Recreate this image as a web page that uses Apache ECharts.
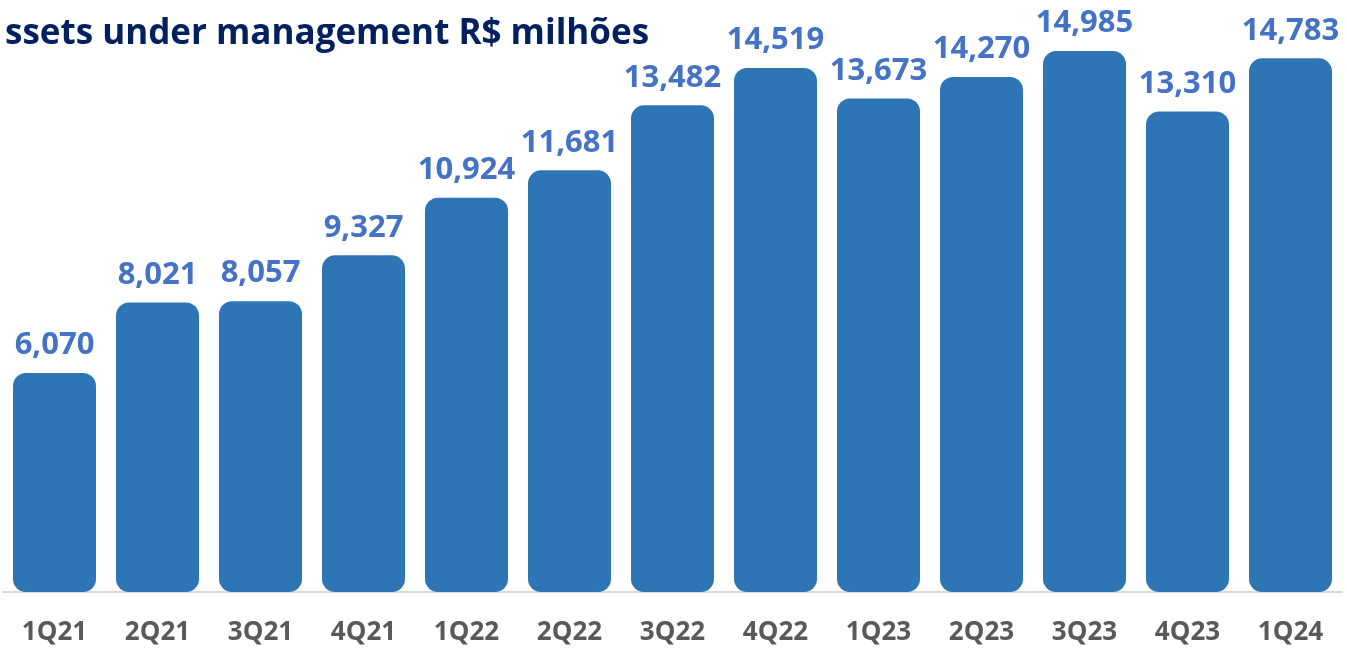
<!DOCTYPE html>
<html>
<head>
    <meta charset="UTF-8">
    <title>Assets under management</title>
    <script src="https://cdn.jsdelivr.net/npm/echarts@6/dist/echarts.min.js"></script>
    <style>
        * { padding: 0; margin: 0; }
        body { background: #fff; }
        #chart { width: 1347px; height: 652px; }
    </style>
</head>
<body>
    <div id="chart"></div>
<script>
    // quarters and AUM (R$ millions)
    var categories = ['1Q21', '2Q21', '3Q21', '4Q21', '1Q22', '2Q22', '3Q22', '4Q22', '1Q23', '2Q23', '3Q23', '4Q23', '1Q24'];
    var aum = [6070, 8021, 8057, 9327, 10924, 11681, 13482, 14519, 13673, 14270, 14985, 13310, 14783];

    var myChart = echarts.init(document.getElementById('chart'));

    var option = {
        animation: false,
        title: {
            text: 'ssets under management R$ milhões',
            left: 0,
            top: 12,
            textStyle: {
                fontFamily: 'Open Sans',
                fontWeight: 'bold',
                fontSize: 35,
                color: '#002060'
            }
        },
        grid: {
            left: 3,
            right: 5,
            top: 0,
            bottom: 60,
            containLabel: false
        },
        xAxis: {
            type: 'category',
            data: categories,
            axisLine: { lineStyle: { color: '#d9d9d9', width: 2 } },
            axisTick: { show: false },
            axisLabel: {
                margin: 28,
                fontFamily: 'Open Sans',
                fontWeight: 'bold',
                fontSize: 26,
                color: '#595959'
            }
        },
        yAxis: {
            type: 'value',
            min: 0,
            max: 16400,
            show: false,
            splitLine: { show: false }
        },
        series: [
            {
                type: 'bar',
                data: aum,
                barWidth: 83,
                itemStyle: {
                    color: '#2E75B6',
                    borderRadius: 13
                },
                label: {
                    show: true,
                    position: 'top',
                    distance: 12,
                    fontFamily: 'Open Sans',
                    fontWeight: 'bold',
                    fontSize: 31,
                    color: '#4472C4',
                    formatter: function (p) {
                        return p.value.toLocaleString('en-US');
                    }
                }
            }
        ]
    };

    myChart.setOption(option);
</script>
</body>
</html>
